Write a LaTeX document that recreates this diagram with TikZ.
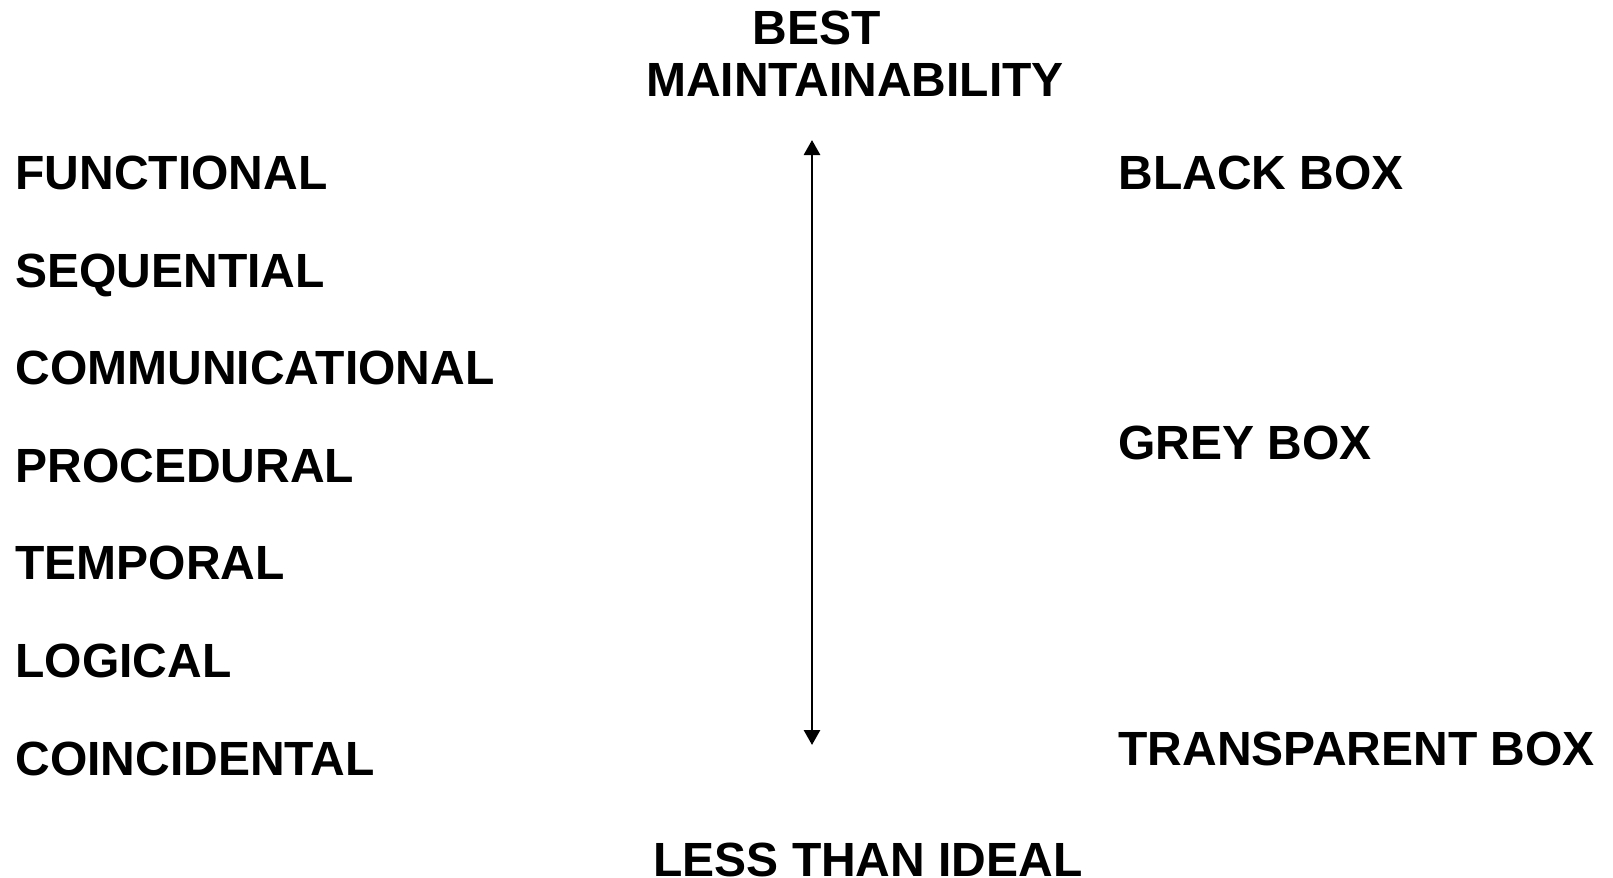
\documentclass[tikz,border=0pt]{standalone}
\usepackage{fontspec}
\setmainfont{Liberation Sans}
\usetikzlibrary{arrows.meta}
\begin{document}
\begin{tikzpicture}[x=0.5pt, y=-0.5pt, font=\fontsize{24}{28}\selectfont\bfseries,
  lbl/.style={inner sep=0pt, anchor=base west},
  ttl/.style={inner sep=0pt, anchor=base},
  scale arrow/.style={line width=1.4pt, {Triangle[width=8pt,length=7.5pt]}-{Triangle[width=8pt,length=7.5pt]}}]
  \useasboundingbox (0,0) rectangle (1613,878);
  % the two ends of the scale
  \node[ttl] (best) at (817,45) {BEST};
  \node[ttl] (maint) at (855,96) {MAINTAINABILITY};
  \node[ttl] (less) at (868,876) {LESS THAN IDEAL};
  % cohesion levels
  \node[lbl] (functional) at (15,189) {FUNCTIONAL};
  \node[lbl] (sequential) at (15,287) {SEQUENTIAL};
  \node[lbl] (communicational) at (15,384) {COMMUNICATIONAL};
  \node[lbl] (procedural) at (15,482) {PROCEDURAL};
  \node[lbl] (temporal) at (15,579) {TEMPORAL};
  \node[lbl] (logical) at (15,677) {LOGICAL};
  \node[lbl] (coincidental) at (15,775) {COINCIDENTAL};
  % box views
  \node[lbl] (blackbox) at (1118,189) {BLACK BOX};
  \node[lbl] (greybox) at (1118,459) {GREY BOX};
  \node[lbl] (transparentbox) at (1118,765) {TRANSPARENT BOX};
  % scale arrow
  \coordinate (top) at (812,140);
  \coordinate (bottom) at (812,745);
  \draw[scale arrow] (top) -- (bottom);
\end{tikzpicture}
\end{document}
